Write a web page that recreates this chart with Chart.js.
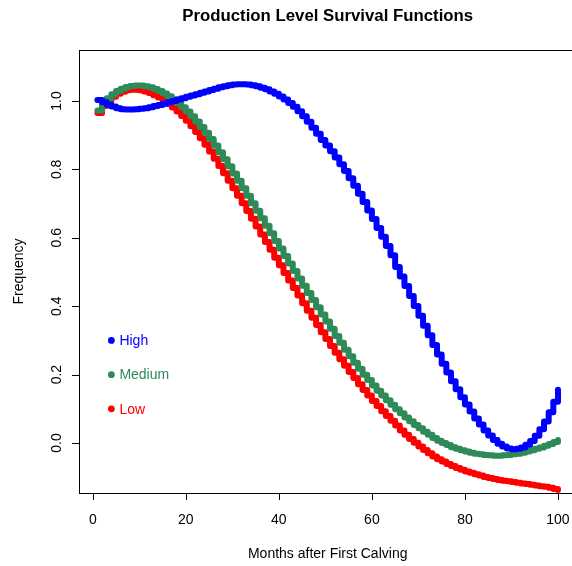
<!DOCTYPE html>
<html>
<head>
<meta charset="utf-8">
<title>Production Level Survival Functions</title>
<script src="https://cdn.jsdelivr.net/npm/chart.js@4.4.1/dist/chart.umd.min.js"></script>
<style>
  html, body { margin: 0; padding: 0; background: #fff; overflow: hidden; }
</style>
</head>
<body>
<canvas id="survival-chart" width="580" height="566"></canvas>
<script>

// months after first calving (x values)
var months = [1,2,3,4,5,6,7,8,9,10,11,12,13,14,15,16,17,18,19,20,
    21,22,23,24,25,26,27,28,29,30,31,32,33,34,35,36,37,38,39,40,
    41,42,43,44,45,46,47,48,49,50,51,52,53,54,55,56,57,58,59,60,
    61,62,63,64,65,66,67,68,69,70,71,72,73,74,75,76,77,78,79,80,
    81,82,83,84,85,86,87,88,89,90,91,92,93,94,95,96,97,98,99,100];

var highLevel = [1.003,0.996,0.989,0.984,0.979,0.976,0.975,0.975,0.976,0.977,
    0.979,0.982,0.985,0.988,0.992,0.996,1.000,1.004,1.008,1.012,
    1.016,1.020,1.024,1.028,1.032,1.036,1.040,1.043,1.046,1.048,
    1.049,1.049,1.048,1.046,1.043,1.039,1.034,1.028,1.021,1.013,
    1.004,0.994,0.983,0.970,0.955,0.939,0.922,0.904,0.886,0.870,
    0.853,0.835,0.815,0.795,0.774,0.752,0.729,0.705,0.680,0.655,
    0.629,0.603,0.576,0.549,0.515,0.487,0.459,0.430,0.401,0.372,
    0.343,0.315,0.287,0.259,0.232,0.206,0.181,0.157,0.134,0.113,
    0.092,0.072,0.054,0.037,0.022,0.009,-0.002,-0.010,-0.016,-0.018,
    -0.017,-0.013,-0.005,0.006,0.021,0.040,0.063,0.090,0.121,0.156];

var mediumLevel = [0.972,0.993,1.008,1.020,1.029,1.036,1.041,1.044,1.045,1.045,
    1.043,1.040,1.035,1.029,1.022,1.014,1.004,0.994,0.982,0.969,
    0.955,0.940,0.924,0.907,0.889,0.870,0.850,0.830,0.809,0.788,
    0.767,0.745,0.723,0.701,0.679,0.657,0.635,0.613,0.591,0.569,
    0.547,0.525,0.503,0.481,0.460,0.439,0.418,0.397,0.376,0.355,
    0.334,0.313,0.293,0.273,0.254,0.235,0.217,0.200,0.184,0.168,
    0.153,0.139,0.125,0.112,0.099,0.087,0.075,0.064,0.053,0.043,
    0.033,0.024,0.015,0.007,0.000,-0.006,-0.012,-0.017,-0.021,-0.025,
    -0.028,-0.031,-0.033,-0.035,-0.036,-0.037,-0.037,-0.036,-0.035,-0.033,
    -0.031,-0.028,-0.025,-0.021,-0.017,-0.013,-0.008,-0.003,0.003,0.009];

var lowLevel = [0.965,0.985,1.000,1.012,1.021,1.027,1.031,1.033,1.033,1.031,
    1.028,1.023,1.017,1.010,1.002,0.992,0.981,0.969,0.956,0.942,
    0.926,0.909,0.891,0.872,0.852,0.831,0.810,0.789,0.767,0.745,
    0.723,0.701,0.678,0.656,0.633,0.610,0.588,0.565,0.542,0.520,
    0.497,0.475,0.453,0.431,0.409,0.387,0.366,0.345,0.324,0.304,
    0.284,0.264,0.245,0.226,0.208,0.190,0.172,0.155,0.139,0.123,
    0.108,0.093,0.079,0.065,0.051,0.037,0.024,0.012,0.001,-0.010,
    -0.020,-0.030,-0.039,-0.047,-0.054,-0.061,-0.067,-0.073,-0.078,-0.083,
    -0.087,-0.091,-0.095,-0.099,-0.102,-0.105,-0.108,-0.110,-0.112,-0.114,
    -0.116,-0.118,-0.120,-0.122,-0.124,-0.126,-0.128,-0.131,-0.134,-0.137];

var levelNames = ["High", "Medium", "Low"];
var levelColors = ["#0000ff", "#2e8b57", "#ff0000"];
var legendY = [0.3, 0.2, 0.1];
var legendX = 4;

var xTicks = [0, 20, 40, 60, 80, 100];
var yTicks = [0.0, 0.2, 0.4, 0.6, 0.8, 1.0];

var FONT = '"Liberation Sans", Arial, Helvetica, sans-serif';

function toPoints(vals) {
    var pts = [];
    for (var i = 0; i < months.length; i++) {
        pts.push({ x: months[i], y: vals[i] });
    }
    return pts;
}

// R style box, axes, titles and text legend
var rFrame = {
    id: 'rFrame',
    afterDraw: function(chart) {
        var ctx = chart.ctx;
        var a = chart.chartArea;
        var xs = chart.scales.x;
        var ys = chart.scales.y;
        var i, p;

        ctx.save();
        ctx.strokeStyle = '#000';
        ctx.lineWidth = 1;
        ctx.strokeRect(a.left + 0.5, a.top + 0.5, a.right - a.left, a.bottom - a.top);

        // x axis
        ctx.beginPath();
        for (i = 0; i < xTicks.length; i++) {
            p = Math.round(xs.getPixelForValue(xTicks[i])) + 0.5;
            ctx.moveTo(p, a.bottom);
            ctx.lineTo(p, a.bottom + 7);
        }
        ctx.stroke();
        ctx.fillStyle = '#000';
        ctx.font = '14px ' + FONT;
        ctx.textAlign = 'center';
        ctx.textBaseline = 'middle';
        for (i = 0; i < xTicks.length; i++) {
            ctx.fillText(String(xTicks[i]), xs.getPixelForValue(xTicks[i]), 520);
        }
        ctx.fillText('Months after First Calving', (a.left + a.right) / 2, 554);

        // y axis
        ctx.beginPath();
        for (i = 0; i < yTicks.length; i++) {
            p = Math.round(ys.getPixelForValue(yTicks[i])) + 0.5;
            ctx.moveTo(a.left, p);
            ctx.lineTo(a.left - 7, p);
        }
        ctx.stroke();
        for (i = 0; i < yTicks.length; i++) {
            ctx.save();
            ctx.translate(57, ys.getPixelForValue(yTicks[i]));
            ctx.rotate(-Math.PI / 2);
            ctx.fillText(yTicks[i].toFixed(1), 0, 0);
            ctx.restore();
        }
        ctx.save();
        ctx.translate(19, (a.top + a.bottom) / 2);
        ctx.rotate(-Math.PI / 2);
        ctx.fillText('Frequency', 0, 0);
        ctx.restore();

        // title
        ctx.font = 'bold 16.8px ' + FONT;
        ctx.fillText('Production Level Survival Functions', (a.left + a.right) / 2, 16);

        // legend written inside the plot
        ctx.font = '14px ' + FONT;
        ctx.textAlign = 'left';
        for (i = 0; i < levelNames.length; i++) {
            var lx = xs.getPixelForValue(legendX);
            var ly = ys.getPixelForValue(legendY[i]);
            ctx.fillStyle = levelColors[i];
            ctx.beginPath();
            ctx.arc(lx, ly, 3.4, 0, Math.PI * 2);
            ctx.fill();
            ctx.fillText(levelNames[i], lx + 8, ly + 1);
        }
        ctx.restore();
    }
};

new Chart(document.getElementById("survival-chart"), {
    type: 'scatter',
    data: {
        datasets: [
            { label: levelNames[0], data: toPoints(highLevel) },
            { label: levelNames[1], data: toPoints(mediumLevel) },
            { label: levelNames[2], data: toPoints(lowLevel) }
        ].map(function(ds, k) {
            ds.borderColor = levelColors[k];
            ds.backgroundColor = levelColors[k];
            ds.showLine = true;
            ds.stepped = true;     // R type = "s"
            ds.borderWidth = 6;
            ds.borderCapStyle = 'round';
            ds.borderJoinStyle = 'round';
            ds.pointRadius = 0;
            return ds;
        })
    },
    options: {
        responsive: false,
        animation: false,
        events: [],
        layout: { padding: { left: 79, top: 50, right: 3.6, bottom: 73 } },
        scales: {
            x: { type: 'linear', min: -2.96, max: 103.96, display: false },
            y: { type: 'linear', min: -0.146, max: 1.149, display: false }
        },
        plugins: {
            legend: { display: false },
            tooltip: { enabled: false },
            title: { display: false }
        }
    },
    plugins: [rFrame]
});
</script>
</body>
</html>
